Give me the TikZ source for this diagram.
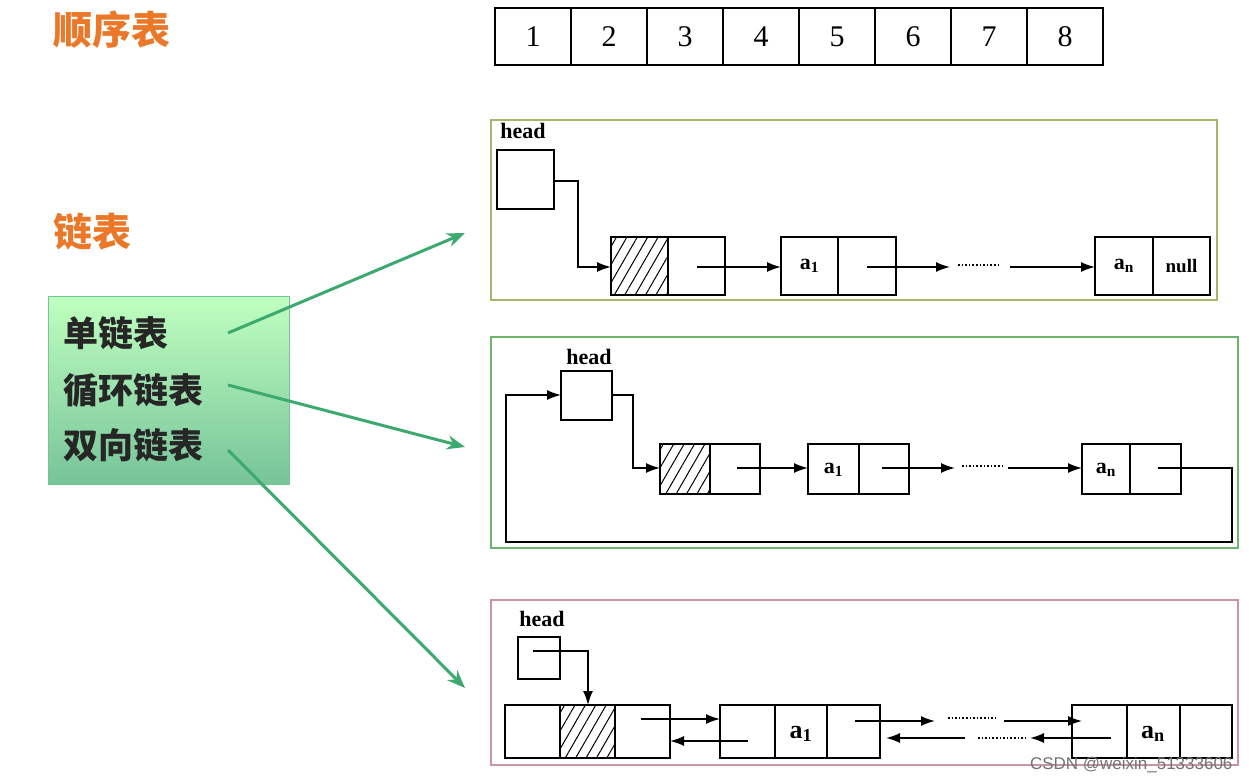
\documentclass[tikz,border=0pt]{standalone}
\usepackage{fontspec}
\setmainfont{Liberation Serif}
\newfontfamily\cjk{Noto Sans CJK SC}
\newfontfamily\wm{Liberation Sans}
\usetikzlibrary{patterns.meta,arrows.meta}
\definecolor{org}{RGB}{235,120,40}
\definecolor{grn}{RGB}{60,170,110}
\definecolor{olv}{RGB}{170,180,110}
\definecolor{pnl}{RGB}{110,180,110}
\definecolor{pnk}{RGB}{200,150,160}
\begin{document}
\begin{tikzpicture}[x=1pt,y=-1pt,
  cell/.style={draw,line width=1.2pt},
  ptr/.style={line width=1.6pt,-{Latex[length=14pt,width=10pt]}},
  ln/.style={line width=1.6pt},
  hatch/.style={cell,pattern={Lines[angle=60,distance=9pt,line width=1pt]}},
  lab/.style={font=\bfseries\fontsize{22}{22}\selectfont},
  garr/.style={line width=3pt,draw=grn,-{Stealth[length=18pt,width=14pt]}},
  side/.style={font=\cjk\bfseries\fontsize{35}{35}\selectfont,text=black!85,anchor=west}]
\useasboundingbox (0,0) rectangle (1249,783);
% titles
\node[font=\cjk\bfseries\fontsize{39}{39}\selectfont,text=org,anchor=west] (t1) at (50,30) {顺序表};
\node[font=\cjk\bfseries\fontsize{39}{39}\selectfont,text=org,anchor=west] (t2) at (50,232) {链表};
% array
\foreach \i in {1,...,8}{
  \node[cell,minimum width=76pt,minimum height=57pt,inner sep=0pt,font=\fontsize{30}{30}\selectfont] (c\i) at ({495+76*(\i-1)+38},36.5) {\i};
}
% left green box
\node[draw=grn!70,line width=1pt,top color=green!25!white,bottom color=grn!70,minimum width=241pt,minimum height=188pt,anchor=north west] (gb) at (48,296) {};
\node[side] (s1) at (60,333) {单链表};
\node[side] (s2) at (60,390) {循环链表};
\node[side] (s3) at (60,445) {双向链表};
\coordinate (e1) at (465,233);\coordinate (e2) at (465,447);\coordinate (e3) at (465,688);
\draw[garr] (228,333) -- (e1);
\draw[garr] (228,385) -- (e2);
\draw[garr] (228,450) -- (e3);
% panel 1
\draw[olv,line width=1.5pt] (491,120) rectangle (1217,300);
\node[lab] (h1) at (523,131) {head};
\draw[cell] (497,150) rectangle (554,209);
\draw[hatch] (611,237) rectangle (668,295);
\draw[cell] (668,237) rectangle (725,295);
\draw[cell] (781,237) rectangle (838,295); \draw[cell] (838,237) rectangle (896,295);
\draw[cell] (1095,237) rectangle (1153,295); \draw[cell] (1153,237) rectangle (1210,295);
\node[lab] (a11) at (809.5,266) {a\textsubscript{1}};
\node[lab] (an1) at (1124,266) {a\textsubscript{n}};
\node[font=\bfseries\fontsize{19}{19}\selectfont] (nl) at (1181.5,266) {null};
\draw[ptr] (554,181) -- (578,181) -- (578,267) -- (611,267);
\draw[ptr] (697,267) -- (781,267);
\draw[ptr] (867,267) -- (950,267);
\draw[ln,dotted] (958,265) -- (998,265);
\draw[ptr] (1010,267) -- (1095,267);
% panel 2
\draw[pnl,line width=1.5pt] (491,337) rectangle (1238,548);
\node[lab] (h2) at (589,357) {head};
\draw[cell] (561,371) rectangle (612,420);
\draw[hatch] (660,444) rectangle (710,494); \draw[cell] (710,444) rectangle (760,494);
\draw[cell] (808,444) rectangle (859,494); \draw[cell] (859,444) rectangle (909,494);
\draw[cell] (1082,444) rectangle (1130,494); \draw[cell] (1130,444) rectangle (1181,494);
\node[lab] (a12) at (833.5,470) {a\textsubscript{1}};
\node[lab] (an2) at (1106,470) {a\textsubscript{n}};
\draw[ptr] (612,395) -- (633,395) -- (633,468) -- (660,468);
\draw[ptr] (737,468) -- (808,468);
\draw[ptr] (882,468) -- (955,468);
\draw[ln,dotted] (962,466) -- (1003,466);
\draw[ptr] (1008,468) -- (1082,468);
\draw[ptr] (1158,468) -- (1232,468) -- (1232,542) -- (506,542) -- (506,395) -- (561,395);
% panel 3
\draw[pnk,line width=1.5pt] (491,600) rectangle (1238,765);
\node[lab] (h3) at (542,619) {head};
\draw[cell] (518,637) rectangle (560,679);
\draw[cell] (505,705) rectangle (560,758); \draw[hatch] (560,705) rectangle (615,758); \draw[cell] (615,705) rectangle (670,758);
\draw[cell] (720,705) rectangle (775,758); \draw[cell] (775,705) rectangle (827,758); \draw[cell] (827,705) rectangle (880,758);
\draw[cell] (1072,705) rectangle (1127,758); \draw[cell] (1127,705) rectangle (1180,758); \draw[cell] (1180,705) rectangle (1232,758);
\node[lab,font=\bfseries\fontsize{26}{26}\selectfont] (a13) at (801,734) {a\textsubscript{1}};
\node[lab,font=\bfseries\fontsize{26}{26}\selectfont] (an3) at (1153,734) {a\textsubscript{n}};
\draw[ptr] (533,651) -- (588,651) -- (588,705);
\draw[ptr] (641,719) -- (720,719);
\draw[ptr] (748,741) -- (670,741);
\draw[ptr] (855,721) -- (935,721);
\draw[ptr] (965,738) -- (886,738);
\draw[ln,dotted] (948,718) -- (995,718);
\draw[ln,dotted] (978,738) -- (1025,738);
\draw[ptr] (1004,721) -- (1082,721);
\draw[ptr] (1111,738) -- (1030,738);
\node[font=\wm\fontsize{17}{17}\selectfont,text=black!55,anchor=east] (wmk) at (1236,765) {CSDN @weixin\_51333606};
\end{tikzpicture}
\end{document}
